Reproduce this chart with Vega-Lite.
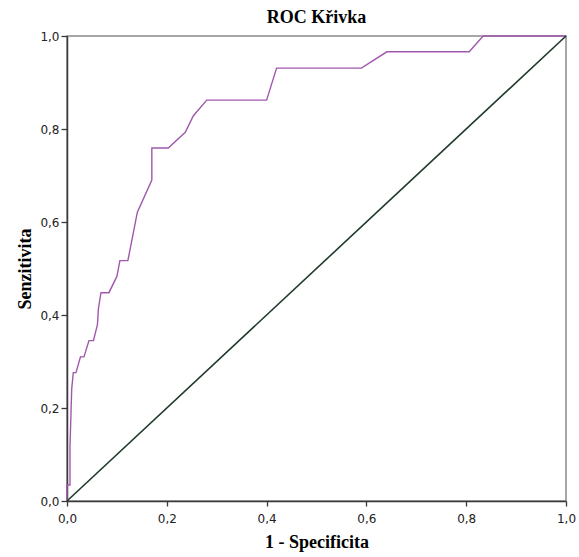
{
  "$schema": "https://vega.github.io/schema/vega-lite/v6.json",
  "autosize": {"type": "none"},
  "padding": {"left": 67, "top": 36, "right": 13, "bottom": 56},
  "width": 499,
  "height": 465,
  "background": "white",
  "title": {
    "text": "ROC Křivka",
    "font": "Liberation Serif",
    "fontSize": 18,
    "fontWeight": "bold",
    "color": "#000000",
    "anchor": "middle",
    "offset": 3
  },
  "config": {
    "view": {"stroke": "#8a8a8a", "strokeWidth": 1.5},
    "axis": {
      "grid": false,
      "domainColor": "#3a3a3a",
      "domainWidth": 1.5,
      "tickColor": "#3a3a3a",
      "tickWidth": 1.3,
      "labelFont": "DejaVu Sans",
      "labelFontSize": 12,
      "labelColor": "#222222",
      "titleFont": "Liberation Serif",
      "titleFontSize": 18,
      "titleFontWeight": "bold",
      "titleColor": "#000000"
    }
  },
  "datasets": {
    "roc": [
      {"i": 0, "fpr": 0.0, "tpr": 0.0},
      {"i": 1, "fpr": 0.0, "tpr": 0.0345},
      {"i": 2, "fpr": 0.006, "tpr": 0.0345},
      {"i": 3, "fpr": 0.006, "tpr": 0.117},
      {"i": 4, "fpr": 0.0094, "tpr": 0.241},
      {"i": 5, "fpr": 0.0126, "tpr": 0.276},
      {"i": 6, "fpr": 0.018, "tpr": 0.276},
      {"i": 7, "fpr": 0.027, "tpr": 0.31},
      {"i": 8, "fpr": 0.034, "tpr": 0.31},
      {"i": 9, "fpr": 0.044, "tpr": 0.345},
      {"i": 10, "fpr": 0.053, "tpr": 0.345},
      {"i": 11, "fpr": 0.061, "tpr": 0.379},
      {"i": 12, "fpr": 0.063, "tpr": 0.414},
      {"i": 13, "fpr": 0.068, "tpr": 0.448},
      {"i": 14, "fpr": 0.084, "tpr": 0.448},
      {"i": 15, "fpr": 0.1, "tpr": 0.483},
      {"i": 16, "fpr": 0.106, "tpr": 0.517},
      {"i": 17, "fpr": 0.122, "tpr": 0.517},
      {"i": 18, "fpr": 0.141, "tpr": 0.621},
      {"i": 19, "fpr": 0.17, "tpr": 0.69},
      {"i": 20, "fpr": 0.17, "tpr": 0.759},
      {"i": 21, "fpr": 0.203, "tpr": 0.759},
      {"i": 22, "fpr": 0.237, "tpr": 0.793},
      {"i": 23, "fpr": 0.253, "tpr": 0.828},
      {"i": 24, "fpr": 0.28, "tpr": 0.862},
      {"i": 25, "fpr": 0.4, "tpr": 0.862},
      {"i": 26, "fpr": 0.42, "tpr": 0.931},
      {"i": 27, "fpr": 0.59, "tpr": 0.931},
      {"i": 28, "fpr": 0.641, "tpr": 0.966},
      {"i": 29, "fpr": 0.806, "tpr": 0.966},
      {"i": 30, "fpr": 0.834, "tpr": 1.0},
      {"i": 31, "fpr": 1.0, "tpr": 1.0}
    ],
    "diag": [
      {"i": 0, "fpr": 0.0, "tpr": 0.0},
      {"i": 1, "fpr": 1.0, "tpr": 1.0}
    ]
  },
  "encoding": {
    "x": {
      "field": "fpr",
      "type": "quantitative",
      "scale": {"domain": [0, 1], "nice": false, "zero": false},
      "axis": {
        "title": "1 - Specificita",
        "values": [0, 0.2, 0.4, 0.6, 0.8, 1.0],
        "labelExpr": "replace(format(datum.value, '.1f'), '.', ',')",
        "tickSize": 5,
        "labelPadding": 7,
        "titlePadding": 9,
        "labelFlush": false
      }
    },
    "y": {
      "field": "tpr",
      "type": "quantitative",
      "scale": {"domain": [0, 1], "nice": false, "zero": false},
      "axis": {
        "title": "Senzitivita",
        "values": [0, 0.2, 0.4, 0.6, 0.8, 1.0],
        "labelExpr": "replace(format(datum.value, '.1f'), '.', ',')",
        "tickSize": 6,
        "labelPadding": 2,
        "titlePadding": 5,
        "labelFlush": false
      }
    },
    "order": {"field": "i", "type": "quantitative"}
  },
  "layer": [
    {
      "data": {"name": "roc"},
      "mark": {"type": "line", "color": "#a058ad", "strokeWidth": 1.4}
    },
    {
      "data": {"name": "diag"},
      "mark": {"type": "line", "color": "#1f3a29", "strokeWidth": 1.6}
    }
  ]
}
